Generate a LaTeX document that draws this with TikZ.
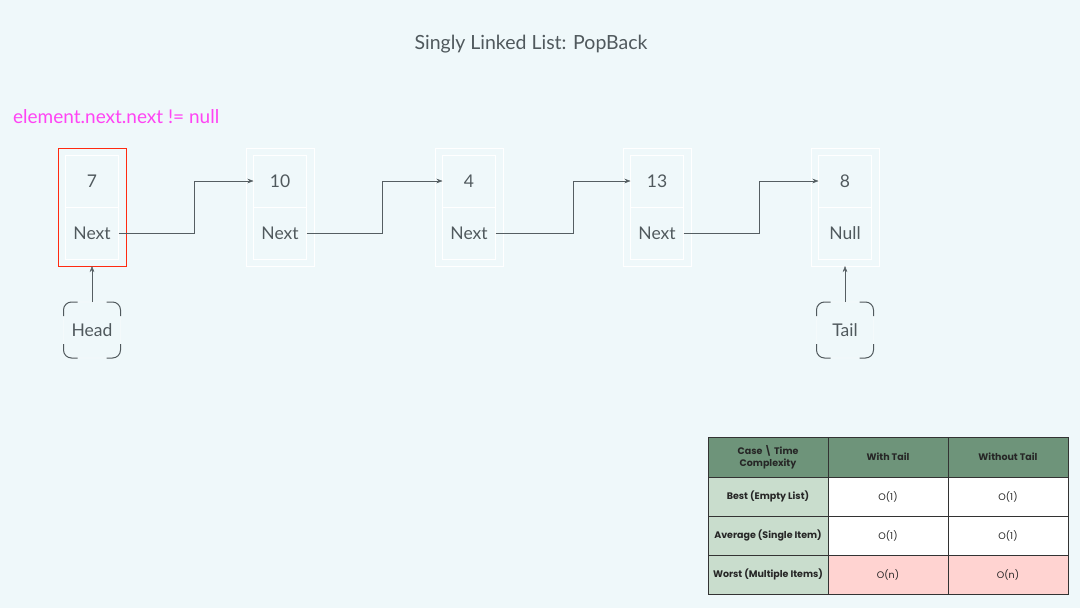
\documentclass[tikz,border=0pt]{standalone}
\usepackage{fontspec}
\setmainfont{Lato}
\newfontfamily\tablefont{Poppins}
\usetikzlibrary{positioning,arrows.meta}
\definecolor{pagebg}{HTML}{EFF8FA}
\definecolor{inkgray}{HTML}{50595D}
\definecolor{linkgray}{HTML}{555E62}
\definecolor{hilite}{HTML}{FF2A10}
\definecolor{condpink}{HTML}{FF44F4}
\definecolor{hdgreen}{HTML}{6E947A}
\definecolor{colgreen}{HTML}{C9DDCD}
\definecolor{badpink}{HTML}{FFD3D1}

% dark corner brackets round a marker node
\newcommand{\markcorners}[1]{%
  \draw[inkgray,line width=1pt] ([yshift=-14pt]#1.north west) -- ([yshift=-8pt]#1.north west) arc[start angle=180,end angle=90,radius=8pt] -- ([xshift=14pt]#1.north west);
  \draw[inkgray,line width=1pt] ([xshift=-14pt]#1.north east) -- ([xshift=-8pt]#1.north east) arc[start angle=90,end angle=0,radius=8pt] -- ([yshift=-14pt]#1.north east);
  \draw[inkgray,line width=1pt] ([yshift=14pt]#1.south east) -- ([yshift=8pt]#1.south east) arc[start angle=0,end angle=-90,radius=8pt] -- ([xshift=-14pt]#1.south east);
  \draw[inkgray,line width=1pt] ([xshift=14pt]#1.south west) -- ([xshift=8pt]#1.south west) arc[start angle=270,end angle=180,radius=8pt] -- ([yshift=14pt]#1.south west);
}

\tikzset{
  holder/.style={draw=white, minimum width=68pt, minimum height=118pt, inner sep=0pt, outer sep=0pt},
  cell/.style={draw=white, minimum width=53pt, minimum height=52pt, inner sep=0pt, outer sep=0pt,
    text=inkgray, font=\fontsize{17.5}{20}\selectfont},
  marker/.style={draw=white, rounded corners=8pt, minimum width=57pt, minimum height=56pt, inner sep=0pt,
    outer sep=0pt, text=inkgray, font=\fontsize{17.5}{20}\selectfont},
  link/.style={draw=linkgray, -{Stealth[length=6pt,width=4.5pt]}},
  tcell/.style={draw=black!80, minimum width=120pt, minimum height=39pt, inner sep=0pt, outer sep=0pt,
    align=center, text=black!85, font=\tablefont\fontsize{9.5}{11.5}\selectfont},
  thead/.style={tcell, fill=hdgreen, minimum height=40pt, font=\tablefont\fontsize{9.5}{11.5}\selectfont\bfseries},
  tcase/.style={tcell, fill=colgreen, font=\tablefont\fontsize{9.5}{11.5}\selectfont\bfseries}
}

\begin{document}
\begin{tikzpicture}[x=1pt,y=-1pt]
\useasboundingbox[fill=pagebg] (0,0) rectangle (1080,608);

\node[text=inkgray, font=\fontsize{19.5}{22}\selectfont] (title) at (531,44) {Singly Linked List: PopBack};
\node[anchor=west, inner sep=0pt, text=condpink, font=\fontsize{19}{22}\selectfont] (cond) at (13,117) {element.next.next != null};

% list elements
\node[holder, draw=hilite, line width=1pt] (o1) at (92,207) {};
\node[cell, below=7pt of o1.north] (v1) {7};
\node[cell, below=0pt of v1] (p1) {Next};

\node[holder, right=120pt of o1] (o2) {};
\node[cell, below=7pt of o2.north] (v2) {10};
\node[cell, below=0pt of v2] (p2) {Next};

\node[holder, right=121pt of o2] (o3) {};
\node[cell, below=7pt of o3.north] (v3) {4};
\node[cell, below=0pt of v3] (p3) {Next};

\node[holder, right=120pt of o3] (o4) {};
\node[cell, below=7pt of o4.north] (v4) {13};
\node[cell, below=0pt of v4] (p4) {Next};

\node[holder, right=120pt of o4] (o5) {};
\node[cell, below=7pt of o5.north] (v5) {8};
\node[cell, below=0pt of v5] (p5) {Null};

\draw[link] (p1.east) -- ++(76,0) |- (v2.west);
\draw[link] (p2.east) -- ++(76,0) |- (v3.west);
\draw[link] (p3.east) -- ++(78,0) |- (v4.west);
\draw[link] (p4.east) -- ++(76,0) |- (v5.west);

% head and tail
\node[marker] (head) at (92,330) {Head};
\markcorners{head}
\draw[link] (head) -- (o1);

\node[marker] (tail) at (845,330) {Tail};
\markcorners{tail}
\draw[link] (tail) -- (o5);

% complexity table
\node[thead] (h1) at (768,457) {Case \textbackslash{} Time\\Complexity};
\node[thead] (h2) at (888,457) {With Tail};
\node[thead] (h3) at (1008,457) {Without Tail};

\node[tcase] (c1) at (768,496.5) {Best (Empty List)};
\node[tcell, fill=white] (b1) at (888,496.5) {O(1)};
\node[tcell, fill=white] (b2) at (1008,496.5) {O(1)};

\node[tcase] (c2) at (768,535.5) {Average (Single Item)};
\node[tcell, fill=white] (a1) at (888,535.5) {O(1)};
\node[tcell, fill=white] (a2) at (1008,535.5) {O(1)};

\node[tcase] (c3) at (768,574.5) {Worst (Multiple Items)};
\node[tcell, fill=badpink] (w1) at (888,574.5) {O(n)};
\node[tcell, fill=badpink] (w2) at (1008,574.5) {O(n)};
\end{tikzpicture}
\end{document}
